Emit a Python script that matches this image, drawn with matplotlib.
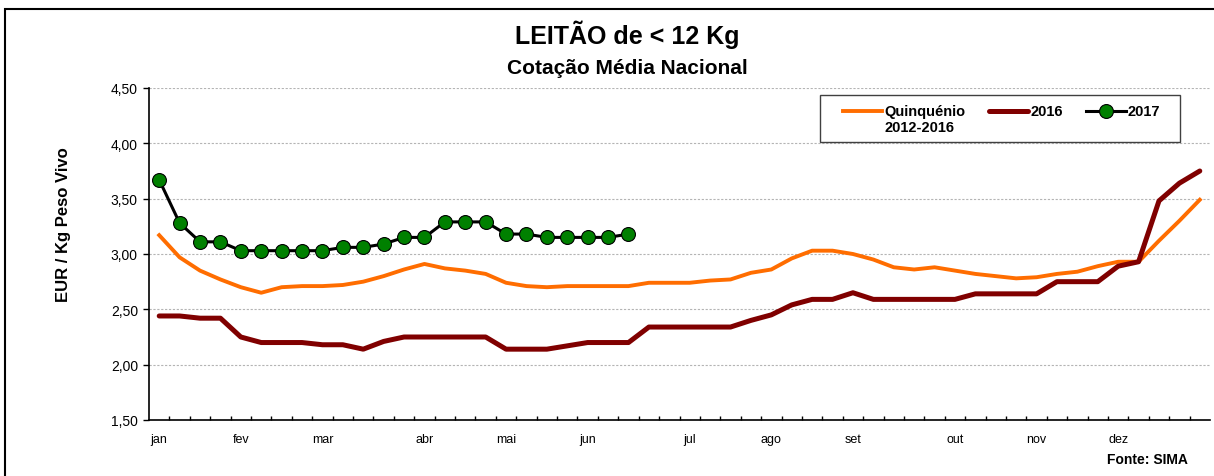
import matplotlib
matplotlib.use("Agg")
import matplotlib.pyplot as plt
from matplotlib.patches import Rectangle
from matplotlib.legend_handler import HandlerLine2D

# weekly prices, EUR / kg live weight
quinquenio = [3.17, 2.97, 2.85, 2.77, 2.70, 2.65, 2.70, 2.71, 2.71, 2.72,
              2.75, 2.80, 2.86, 2.91, 2.87, 2.85, 2.82, 2.74, 2.71, 2.70,
              2.71, 2.71, 2.71, 2.71, 2.74, 2.74, 2.74, 2.76, 2.77, 2.83,
              2.86, 2.96, 3.03, 3.03, 3.00, 2.95, 2.88, 2.86, 2.88, 2.85,
              2.82, 2.80, 2.78, 2.79, 2.82, 2.84, 2.89, 2.93, 2.93, 3.12,
              3.30, 3.49]
y2016 = [2.44, 2.44, 2.42, 2.42, 2.25, 2.20, 2.20, 2.20, 2.18, 2.18,
         2.14, 2.21, 2.25, 2.25, 2.25, 2.25, 2.25, 2.14, 2.14, 2.14,
         2.17, 2.20, 2.20, 2.20, 2.34, 2.34, 2.34, 2.34, 2.34, 2.40,
         2.45, 2.54, 2.59, 2.59, 2.65, 2.59, 2.59, 2.59, 2.59, 2.59,
         2.64, 2.64, 2.64, 2.64, 2.75, 2.75, 2.75, 2.89, 2.93, 3.48,
         3.64, 3.75]
y2017 = [3.67, 3.28, 3.11, 3.11, 3.03, 3.03, 3.03, 3.03, 3.03, 3.06,
         3.06, 3.09, 3.15, 3.15, 3.29, 3.29, 3.29, 3.18, 3.18, 3.15,
         3.15, 3.15, 3.15, 3.18]

months = ["jan", "fev", "mar", "abr", "mai", "jun",
          "jul", "ago", "set", "out", "nov", "dez"]
month_week = [0, 4, 8, 13, 17, 21, 26, 30, 34, 39, 43, 47]
yticks = [1.50, 2.00, 2.50, 3.00, 3.50, 4.00, 4.50]


class FirstLineHandler(HandlerLine2D):
    # put the legend sample level with the first line of a two-line label
    def create_artists(self, *args, **kwargs):
        arts = super().create_artists(*args, **kwargs)
        for a in arts:
            a.set_ydata([y + 6.4 for y in a.get_ydata()])
        return arts


W, H = 1214, 477
fig = plt.figure(figsize=(W / 100, H / 100), dpi=100)
ax = fig.add_axes([149 / W, 1 - 421 / H, (1210 - 149) / W, (421 - 89) / H])

weeks = list(range(len(quinquenio)))
l1, = ax.plot(weeks, quinquenio, color="#ff6d00", lw=2.8,
              label="Quinquénio\n2012-2016", solid_joinstyle="round", zorder=3)
l2, = ax.plot(weeks, y2016, color="#800000", lw=3.6, label="2016\n ",
              solid_joinstyle="round", solid_capstyle="round", zorder=3)
l3, = ax.plot(range(len(y2017)), y2017, color="black", lw=2.2, marker="o",
              markersize=10, markerfacecolor="#008000", markeredgecolor="black",
              markeredgewidth=0.8, label="2017\n ", zorder=4)

ax.set_xlim(-0.5, len(weeks) - 0.5)
ax.set_ylim(1.5, 4.5)
ax.set_yticks(yticks)
ax.set_yticklabels([f"{v:.2f}".replace(".", ",") for v in yticks],
                   family="Liberation Sans", fontsize=10)
ax.yaxis.grid(True, color="#b4b4b4", ls=(0, (2, 1.5)), lw=0.8)
ax.set_axisbelow(True)

ax.set_xticks([w + 0.5 for w in weeks[:-1]])
ax.set_xticklabels([])
ax.tick_params(axis="x", direction="in", length=3, width=1)
ax.tick_params(axis="y", direction="out", length=4, width=1, pad=4)
for w, m in zip(month_week, months):
    ax.text(w, 1.5 - 0.17, m, ha="center", va="center", fontsize=9,
            family=["Liberation Sans Narrow", "Liberation Sans"])

for s in ["top", "right"]:
    ax.spines[s].set_visible(False)
for s in ["left", "bottom"]:
    ax.spines[s].set_linewidth(1.2)

ax.set_ylabel("EUR / Kg Peso Vivo", fontsize=12, fontweight="bold",
              family="Liberation Sans")
ax.yaxis.set_label_coords(-78 / (1210 - 149), 0.59)

# legend box drawn separately so it can be wider than the entries
ax.add_patch(Rectangle((820 / W, 1 - 143 / H), 360 / W, 47 / H,
                       transform=fig.transFigure, facecolor="white",
                       edgecolor="#404040", lw=1.0, clip_on=False, zorder=4.5))
hm = {l: FirstLineHandler() for l in (l1, l2, l3)}
leg = ax.legend(handles=[l1, l2, l3], handler_map=hm, loc="upper left",
                bbox_to_anchor=(843 / W, 1 - 105 / H),
                bbox_transform=fig.transFigure, ncol=3, frameon=False,
                prop={"family": "Liberation Sans", "weight": "bold", "size": 10.5},
                handlelength=2.7, handletextpad=0.15, columnspacing=1.6,
                borderpad=0, labelspacing=0.2, borderaxespad=0)
leg.set_zorder(6)

fig.text(627 / W, 1 - 35 / H, "LEITÃO de < 12 Kg", ha="center", va="center",
         fontsize=18, fontweight="bold", family="Liberation Sans")
fig.text(627 / W, 1 - 68 / H, "Cotação Média Nacional", ha="center", va="center",
         fontsize=15, fontweight="bold", family="Liberation Sans")
fig.text(1188 / W, 1 - 460 / H, "Fonte: SIMA", ha="right", va="center",
         fontsize=10, fontweight="bold", family="Liberation Sans")

fig.patches.append(Rectangle((5 / W, -0.1), 1.2, 1 - 10 / H + 0.1,
                             transform=fig.transFigure, fill=False,
                             edgecolor="black", lw=1.5))

fig.savefig("out.png", dpi=100)
